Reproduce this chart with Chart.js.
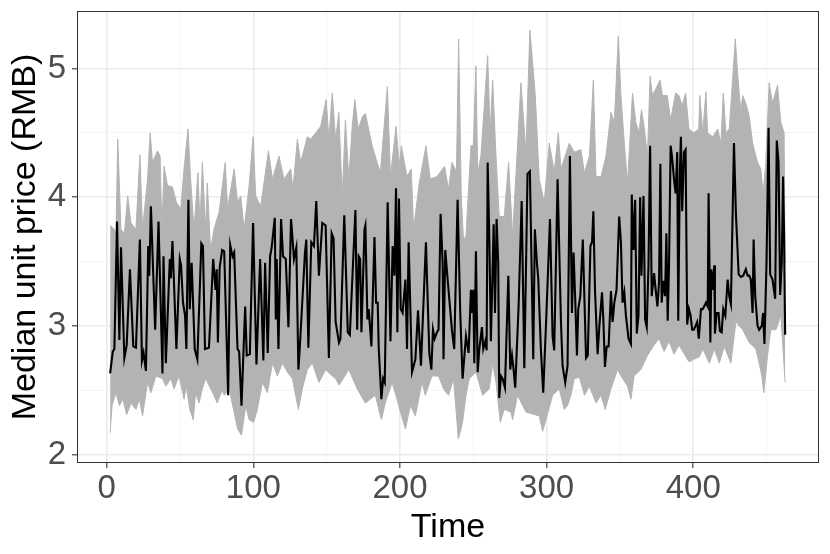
<!DOCTYPE html>
<html>
<head>
<meta charset="utf-8">
<script src="https://cdn.jsdelivr.net/npm/chart.js@4.4.1/dist/chart.umd.min.js"></script>
<style>
  html, body { margin: 0; padding: 0; background: #ffffff; }
  #wrap { width: 830px; height: 554px; }
</style>
</head>
<body>
<div id="wrap"><canvas id="priceChart" width="830" height="554"></canvas></div>
<script>
// median unit price
const timeMedian = [2.3, 4.1, 5.2, 7, 8.6, 9.7, 12, 13.6, 15.8, 18.1, 19.9, 22.6, 24, 25.1, 26.7, 28.3, 29, 30.1, 33, 35.3,
  38, 38.7, 40.3, 43, 43.7, 44.8, 47.5, 49.8, 50.7, 52, 53.4, 54.3, 55.7, 56.6, 57.9, 60, 61.8, 64.5, 65.6, 67,
  69.7, 72.6, 74.2, 75, 75.8, 77, 78.7, 80.1, 82.8, 84.2, 85.8, 86.9, 89.2, 90.3, 91.9, 94.4, 95.5, 97.6, 99.8, 102.1,
  104.6, 106.8, 108, 109.8, 111.4, 112.5, 114.6, 115.3, 115.9, 117.1, 118.9, 120.2, 122.1, 123.9, 125.7, 127.7, 129.3, 130.7, 131.6, 135.2,
  136.1, 137.5, 139.5, 141.3, 142.9, 144.7, 147, 149.3, 151.5, 153.4, 154.7, 156.1, 158.4, 159.4, 162, 164.4, 165.8, 169.6, 170.8, 171.9,
  172.8, 173.7, 175.8, 176.4, 177.8, 178.7, 180.5, 182.6, 183.7, 184.8, 185.5, 187.3, 188.5, 189.6, 191.6, 193.5, 195, 196.2, 197.3, 198.2,
  199.3, 200.5, 201.8, 203.7, 204.8, 205.9, 208.2, 210.5, 212.3, 214.3, 217.7, 220, 221.4, 222.5, 223.6, 225.2, 226.3, 227.7, 229.1, 229.7,
  230.9, 232.5, 235.4, 237, 239.3, 241.1, 242.7, 245, 246.8, 248.4, 249.1, 250, 250.7, 251.8, 253, 254.1, 255.9, 256.8, 258.2, 259.1,
  259.8, 260.9, 262, 263.9, 264.8, 265.9, 267, 267.7, 268.9, 270, 271.6, 273.9, 275.2, 276.4, 277.5, 278.6, 280.9, 283, 284.8, 287,
  288.6, 290.9, 292, 293.4, 294.3, 296.1, 297.7, 300, 302.3, 304.1, 305.2, 307.5, 309.8, 310.9, 312.7, 314.3, 315.9, 317.3, 318.4, 319.6,
  320.7, 321.6, 323, 324.7, 326.9, 328.1, 329.9, 331, 331.9, 333, 334.8, 336, 337.8, 338.7, 339.8, 341, 342.3, 343.9, 345, 346.2,
  347.7, 349.5, 350.7, 351.8, 353, 354.1, 355.9, 357.5, 358.1, 359.3, 360.4, 361.5, 362.7, 363.8, 364.7, 366.1, 367.2, 368.3, 369.5, 370.6,
  371.7, 373.3, 374.4, 375.6, 376.7, 377.6, 378.5, 379.6, 380.8, 381.7, 382.6, 383.5, 384.6, 385.7, 386.9, 388, 389.1, 389.8, 390.9, 391.6,
  392.5, 393.7, 394.8, 395.9, 397.1, 398.2, 399.3, 400.4, 401.6, 402.7, 403.8, 405.3, 406.5, 408.7, 409.9, 410.5, 411.7, 412.4, 413.3, 414.4,
  414.8, 416, 417.3, 418.2, 419.4, 420.5, 421.9, 423.5, 424.6, 425.7, 426.9, 427.8, 429.1, 431, 432.5, 434.1, 435.9, 437.1, 438.2, 439.3,
  440.5, 441.2, 442.3, 443.9, 445, 446.8, 447.7, 448.6, 450, 451.4, 452.5, 454.1, 455.9, 457, 458.2, 459.3, 460.4, 461.3, 462, 462.7];
const medianPrice = [2.63, 2.80, 2.82, 3.81, 2.89, 3.61, 2.75, 2.85, 3.44, 2.84, 2.83, 3.67, 2.73, 2.79, 2.65, 3.62, 3.39, 3.93, 2.97, 3.81,
  2.63, 3.54, 2.71, 3.52, 3.37, 3.66, 2.82, 3.52, 3.47, 3.18, 3.08, 2.82, 3.98, 3.13, 3.49, 2.82, 2.74, 3.64, 3.62, 2.82,
  2.83, 3.52, 3.28, 3.44, 2.87, 3.45, 3.59, 3.58, 2.46, 3.63, 3.54, 3.57, 2.82, 2.80, 2.38, 3.15, 2.77, 2.78, 3.80, 2.70,
  3.52, 2.73, 3.49, 2.79, 3.54, 3.61, 3.84, 3.05, 3.52, 2.82, 3.83, 3.54, 3.52, 2.99, 3.83, 3.52, 3.61, 2.66, 2.82, 3.57,
  3.67, 2.83, 3.65, 3.62, 3.97, 3.39, 3.80, 3.78, 2.75, 3.72, 3.68, 3.03, 2.87, 2.90, 3.86, 2.95, 2.93, 3.90, 2.97, 3.54,
  3.52, 2.95, 3.75, 3.78, 3.05, 3.13, 2.84, 3.69, 3.18, 3.18, 2.83, 2.43, 2.59, 2.56, 3.96, 2.88, 3.62, 3.39, 4.07, 2.95,
  3.99, 3.13, 3.10, 3.36, 2.82, 3.65, 2.64, 2.74, 3.12, 2.69, 3.65, 2.79, 2.66, 2.97, 2.90, 2.95, 2.97, 3.87, 3.49, 2.74,
  3.59, 3.36, 2.97, 2.82, 3.98, 3.10, 2.59, 2.92, 2.79, 3.28, 3.10, 3.28, 2.71, 3.58, 2.64, 2.82, 2.99, 2.82, 2.88, 2.81,
  4.27, 3.70, 2.88, 3.79, 3.10, 3.83, 3.49, 2.44, 2.61, 2.59, 2.52, 3.39, 2.66, 2.77, 2.66, 2.52, 3.15, 3.97, 2.67, 4.18,
  4.20, 2.74, 3.75, 3.49, 3.37, 2.82, 2.48, 3.13, 3.83, 2.92, 2.81, 4.14, 3.03, 2.69, 2.56, 2.69, 4.32, 3.10, 3.57, 3.18,
  2.77, 3.13, 3.23, 3.67, 2.75, 2.77, 3.62, 3.65, 3.89, 3.28, 2.78, 3.00, 3.26, 3.05, 2.68, 2.84, 2.84, 3.27, 3.03, 3.18,
  3.28, 3.85, 3.65, 3.18, 3.26, 3.08, 2.90, 2.86, 4.02, 3.59, 3.98, 2.94, 3.08, 4.00, 3.39, 4.01, 3.05, 2.99, 3.47, 4.40,
  3.23, 3.41, 3.28, 3.15, 3.34, 4.26, 3.18, 3.35, 3.23, 3.72, 3.04, 3.47, 4.40, 4.30, 4.14, 4.03, 4.35, 3.04, 4.19, 4.47,
  3.89, 4.35, 4.37, 3.01, 3.13, 3.08, 2.97, 2.97, 3.00, 3.03, 2.90, 3.13, 3.13, 3.18, 3.15, 4.03, 2.87, 3.44, 3.28, 3.47,
  2.94, 3.10, 3.10, 2.96, 2.95, 3.13, 3.08, 3.36, 3.23, 3.17, 3.88, 4.42, 3.88, 3.40, 3.38, 3.39, 3.44, 3.39, 3.39, 3.36,
  3.10, 3.67, 3.23, 3.00, 2.97, 3.00, 3.10, 2.86, 3.49, 4.54, 3.40, 3.36, 3.21, 4.44, 4.27, 3.24, 3.49, 4.16, 3.70, 2.93];

// upper edge of the grey band
const timeUpper = [2.3, 5.2, 6.3, 7.5, 9.7, 12, 14.3, 16.5, 19.9, 22.6, 24.4, 27.8, 29.6, 31.2, 34.6, 36.4, 37.6, 39.1, 41.4, 44.8,
  47.5, 50.5, 52.7, 55.4, 57.2, 59.5, 62.2, 63.6, 65.2, 67.4, 68.6, 70.8, 73.1, 76.7, 80.8, 82.4, 86.9, 89.2, 91.4, 93.7,
  97.1, 99.8, 101.6, 105, 110.3, 113, 117.5, 120.9, 125.5, 127, 130, 132.3, 136.8, 139.1, 142.5, 145.9, 149.7, 151.5, 153.8, 156.1,
  158.3, 160.6, 162.8, 165.1, 167.4, 169.2, 171.5, 174.6, 176.4, 181, 184.4, 186.6, 191.4, 193.5, 197.3, 199.6, 200.9, 204.8, 207.7, 209.3,
  213, 217.7, 220.7, 225.2, 230.4, 233.1, 235.4, 238.5, 240, 241.8, 243.3, 245, 248.4, 250, 251.8, 253, 255.2, 259.8, 261.5, 263.2,
  265.5, 267.7, 271.1, 274.1, 276.8, 282.5, 285.9, 288.6, 292.3, 295, 298.4, 301.8, 305.2, 308, 309.8, 315.5, 318.9, 323.4, 325.8, 329.2,
  331.9, 333.7, 337.1, 340.5, 343.9, 346.2, 348.9, 350.7, 353, 355.2, 358.6, 360.9, 363.1, 364.7, 366.5, 368.8, 370.6, 372.2, 377.4, 379,
  382.3, 384.6, 388, 390.3, 392.5, 394.8, 397.1, 400.4, 403.8, 404.5, 406.5, 408.7, 409.8, 413.3, 416.7, 418.9, 420.5, 422.3, 424.6, 428.7,
  430.3, 432.5, 433.7, 435.9, 438.2, 440.5, 443.9, 446.1, 447.7, 449.5, 451.8, 454.1, 457.5, 459.8, 462, 462.7];
const upperPrice = [3.78, 3.75, 3.72, 4.45, 3.75, 3.72, 4.01, 3.80, 3.75, 4.33, 3.75, 4.14, 4.50, 4.27, 4.36, 4.32, 3.75, 4.24, 4.09, 4.08,
  3.96, 3.91, 4.22, 4.53, 4.14, 3.75, 4.19, 3.78, 4.27, 3.75, 4.11, 3.59, 3.75, 3.89, 4.27, 3.91, 4.22, 3.96, 4.01, 3.75,
  4.09, 4.47, 4.01, 3.93, 4.36, 4.14, 4.32, 4.14, 4.22, 4.06, 4.45, 4.27, 4.47, 4.45, 4.50, 4.55, 4.76, 4.45, 4.81, 4.45,
  4.66, 4.01, 4.60, 4.14, 4.55, 4.76, 4.53, 4.63, 4.65, 4.40, 4.27, 4.19, 4.86, 4.16, 4.55, 4.24, 4.40, 4.16, 4.22, 3.75,
  4.10, 4.40, 4.14, 4.16, 4.24, 4.06, 4.27, 4.20, 5.23, 4.01, 3.67, 3.70, 4.40, 4.40, 5.02, 4.19, 4.32, 5.10, 4.50, 4.91,
  4.32, 3.85, 3.85, 4.27, 3.70, 4.89, 4.35, 5.30, 4.79, 4.14, 3.96, 4.42, 4.20, 4.50, 4.22, 4.42, 4.35, 4.37, 4.19, 4.32,
  4.91, 4.16, 4.16, 4.32, 4.66, 4.58, 5.25, 4.79, 4.42, 4.11, 4.81, 4.58, 4.50, 4.68, 4.55, 4.32, 4.94, 4.79, 4.91, 4.79,
  4.79, 4.60, 4.81, 4.79, 4.71, 4.81, 4.53, 4.50, 4.53, 4.79, 4.50, 4.82, 4.50, 4.47, 4.53, 4.42, 4.81, 4.50, 4.53, 5.23,
  4.96, 4.66, 4.79, 4.73, 4.63, 4.42, 4.27, 4.22, 4.03, 4.27, 4.89, 4.73, 4.87, 4.58, 4.50, 3.49];

// lower edge of the grey band
const timeLower = [2.3, 3.6, 6.3, 8.6, 10.9, 13.6, 16.5, 19.9, 22.2, 24.4, 27.8, 30.1, 33.5, 38, 40.3, 43.7, 45.9, 49.3, 52.7, 54.3,
  56.6, 59, 60.6, 62.9, 65.2, 67.4, 73.1, 75.3, 78.7, 80.1, 83.5, 89.2, 91.9, 94.8, 97.1, 100.1, 102.3, 106.2, 109.6, 113,
  116.4, 119.8, 123.2, 126.6, 130.7, 133.4, 136.8, 140.2, 144.7, 149.3, 153.8, 156.1, 158.5, 165.1, 170.8, 176.4, 183.2, 187.3, 190, 194.6,
  198, 200.3, 203.7, 207.1, 210.5, 215, 217.3, 221.8, 226.3, 229.7, 233.1, 236.5, 239.8, 242.7, 245, 247.3, 251.8, 256.4, 260.9, 263.2,
  265.5, 268.4, 271.1, 275.7, 276.8, 280.2, 285.9, 295, 297.3, 299.6, 304.1, 308.6, 312, 314.3, 316.6, 318.9, 322.4, 325.8, 329.2, 333.7,
  337.1, 340, 343.9, 348.4, 351.8, 355.2, 357.5, 359.7, 364.3, 368.8, 373.3, 376.7, 380.1, 383.5, 386.9, 390.3, 397.1, 400.4, 404.2, 406.5,
  411, 414.4, 417.8, 421.2, 425.7, 429.1, 433.7, 438.2, 442.7, 445, 446.8, 448.2, 450.7, 452.9, 456.4, 459.8, 462.7];
const lowerPrice = [2.17, 2.38, 2.48, 2.38, 2.43, 2.31, 2.40, 2.35, 2.43, 2.30, 2.56, 2.48, 2.61, 2.59, 2.53, 2.59, 2.51, 2.61, 2.43, 2.53,
  2.35, 2.27, 2.48, 2.40, 2.51, 2.59, 2.46, 2.40, 2.50, 2.46, 2.51, 2.20, 2.15, 2.38, 2.27, 2.25, 2.33, 2.56, 2.48, 2.71,
  2.61, 2.71, 2.64, 2.59, 2.35, 2.51, 2.66, 2.71, 2.56, 2.66, 2.61, 2.59, 2.54, 2.66, 2.51, 2.40, 2.46, 2.27, 2.40, 2.56,
  2.43, 2.33, 2.20, 2.38, 2.30, 2.56, 2.46, 2.61, 2.61, 2.51, 2.46, 2.59, 2.12, 2.25, 2.46, 2.59, 2.64, 2.46, 2.51, 2.71,
  2.56, 2.25, 2.35, 2.33, 2.27, 2.46, 2.33, 2.30, 2.18, 2.27, 2.46, 2.51, 2.35, 2.38, 2.46, 2.59, 2.60, 2.46, 2.53, 2.40,
  2.46, 2.35, 2.51, 2.66, 2.59, 2.53, 2.43, 2.61, 2.66, 2.77, 2.85, 2.90, 2.80, 2.88, 2.78, 2.85, 2.72, 2.74, 2.76, 2.82,
  2.71, 2.82, 2.71, 2.84, 2.71, 3.03, 2.97, 2.87, 2.82, 2.71, 2.61, 2.48, 2.77, 2.97, 2.97, 3.08, 2.56];

const xTicks = [0, 100, 200, 300, 400];
const yTicks = [2, 3, 4, 5];

document.addEventListener('DOMContentLoaded', function () {
  const ctx = document.getElementById('priceChart').getContext('2d');
  const fontFamily = "'Liberation Sans', Arial, Helvetica, sans-serif";

  function toPoints(xs, ys) {
    return xs.map((x, i) => ({ x: x, y: ys[i] }));
  }

  // major breaks plus the minor ones halfway between them (ggplot style)
  function withMinor(majors, min, max) {
    const half = (majors[1] - majors[0]) / 2;
    const all = majors.slice();
    majors.forEach(v => all.push(v + half));
    all.push(majors[0] - half);
    return all.filter(v => v >= min && v <= max).sort((a, b) => a - b);
  }

  function isMajor(list, v) {
    return list.some(m => Math.abs(m - v) < 1e-9);
  }

  const xMin = -20.3, xMax = 485.8;
  const yMin = 1.934, yMax = 5.447;

  // frame round the panel, like theme_bw
  const panelBorder = {
    id: 'panelBorder',
    afterDraw(chart) {
      const a = chart.chartArea;
      const c = chart.ctx;
      c.save();
      c.strokeStyle = '#333333';
      c.lineWidth = 1;
      c.strokeRect(a.left + 0.5, a.top + 0.5, a.right - a.left - 1, a.bottom - a.top - 1);
      c.restore();
    }
  };

  function gridFor(majors) {
    return {
      color: c => isMajor(majors, c.tick.value) ? '#EBEBEB' : '#F4F4F4',
      lineWidth: c => isMajor(majors, c.tick.value) ? 1.6 : 0.9,
      tickColor: c => isMajor(majors, c.tick.value) ? '#333333' : 'rgba(0,0,0,0)',
      tickWidth: 1.1,
      tickLength: 5,
      drawOnChartArea: true,
      drawTicks: true
    };
  }

  new Chart(ctx, {
    type: 'line',
    data: {
      datasets: [
        {
          label: 'lower',
          data: toPoints(timeLower, lowerPrice),
          borderColor: '#B3B3B3',
          borderWidth: 1,
          pointRadius: 0,
          fill: false,
          tension: 0,
          order: 2
        },
        {
          label: 'upper',
          data: toPoints(timeUpper, upperPrice),
          borderColor: '#B3B3B3',
          backgroundColor: '#B3B3B3',
          borderWidth: 1,
          pointRadius: 0,
          fill: '-1',
          tension: 0,
          order: 1
        },
        {
          label: 'median',
          data: toPoints(timeMedian, medianPrice),
          borderColor: '#000000',
          borderWidth: 2.1,
          pointRadius: 0,
          fill: false,
          tension: 0,
          order: 0
        }
      ]
    },
    options: {
      responsive: false,
      animation: false,
      layout: { padding: { top: 11, right: 11, left: 0, bottom: 0 } },
      plugins: {
        legend: { display: false },
        tooltip: { enabled: false }
      },
      scales: {
        x: {
          type: 'linear',
          min: xMin,
          max: xMax,
          afterBuildTicks: scale => {
            scale.ticks = withMinor(xTicks, xMin, xMax).map(v => ({ value: v }));
          },
          afterFit: scale => {
            scale.height = 91;
            scale.paddingLeft = 0;
            scale.paddingRight = 0;
          },
          border: { display: false },
          grid: gridFor(xTicks),
          ticks: {
            autoSkip: false,
            maxRotation: 0,
            padding: 1,
            color: '#4D4D4D',
            font: { family: fontFamily, size: 33 },
            callback: v => isMajor(xTicks, v) ? String(v) : ''
          },
          title: {
            display: true,
            text: 'Time',
            color: '#000000',
            font: { family: fontFamily, size: 34 },
            padding: { top: 0, bottom: 6 }
          }
        },
        y: {
          type: 'linear',
          min: yMin,
          max: yMax,
          afterBuildTicks: scale => {
            scale.ticks = withMinor(yTicks, yMin, yMax).map(v => ({ value: v }));
          },
          afterFit: scale => {
            scale.width = 77;
            scale.paddingTop = 0;
            scale.paddingBottom = 0;
          },
          border: { display: false },
          grid: gridFor(yTicks),
          ticks: {
            autoSkip: false,
            padding: 6,
            color: '#4D4D4D',
            font: { family: fontFamily, size: 33 },
            callback: v => isMajor(yTicks, v) ? String(v) : ''
          },
          title: {
            display: true,
            text: 'Median unit price (RMB)',
            color: '#000000',
            font: { family: fontFamily, size: 34 },
            padding: { top: 5, bottom: 0 }
          }
        }
      }
    },
    plugins: [panelBorder]
  });
});
</script>
</body>
</html>
